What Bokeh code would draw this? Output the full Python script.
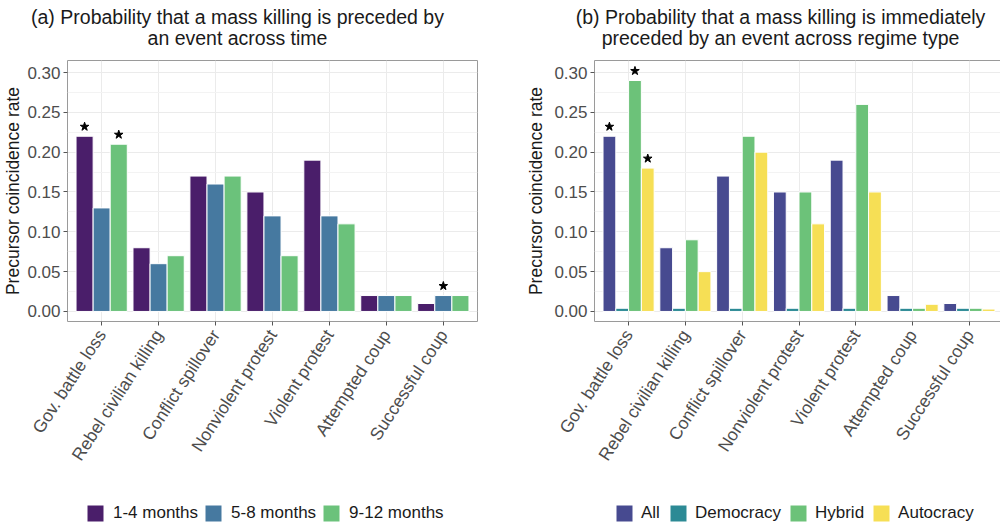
import numpy as np
from bokeh.plotting import figure
from bokeh.models import (ColumnDataSource, FixedTicker, Label, Legend, LegendItem,
                          Range1d, NumeralTickFormatter)
from bokeh.layouts import row, column
from bokeh.embed import file_html
from bokeh.resources import INLINE

# ---------------- data ----------------
categories = ["Gov. battle loss", "Rebel civilian killing", "Conflict spillover",
              "Nonviolent protest", "Violent protest", "Attempted coup", "Successful coup"]

time_labels = ["1-4 months", "5-8 months", "9-12 months"]
time_1_4 = [0.22, 0.08, 0.17, 0.15, 0.19, 0.02, 0.01]
time_5_8 = [0.13, 0.06, 0.16, 0.12, 0.12, 0.02, 0.02]
time_9_12 = [0.21, 0.07, 0.17, 0.07, 0.11, 0.02, 0.02]
time_star_1_4 = [1, 0, 0, 0, 0, 0, 0]
time_star_5_8 = [0, 0, 0, 0, 0, 0, 1]
time_star_9_12 = [1, 0, 0, 0, 0, 0, 0]

regime_labels = ["All", "Democracy", "Hybrid", "Autocracy"]
regime_all = [0.22, 0.08, 0.17, 0.15, 0.19, 0.02, 0.01]
regime_democracy = [0.004, 0.004, 0.004, 0.004, 0.004, 0.004, 0.004]
regime_hybrid = [0.29, 0.09, 0.22, 0.15, 0.26, 0.004, 0.004]
regime_autocracy = [0.18, 0.05, 0.20, 0.11, 0.15, 0.009, 0.003]
regime_star_all = [1, 0, 0, 0, 0, 0, 0]
regime_star_democracy = [0, 0, 0, 0, 0, 0, 0]
regime_star_hybrid = [1, 0, 0, 0, 0, 0, 0]
regime_star_autocracy = [1, 0, 0, 0, 0, 0, 0]

y_ticks = [0.00, 0.05, 0.10, 0.15, 0.20, 0.25, 0.30]
y_minor = [0.025, 0.075, 0.125, 0.175, 0.225, 0.275]

title_a = ["(a) Probability that a mass killing is preceded by", "an event across time"]
title_b = ["(b) Probability that a mass killing is immediately",
           "preceded by an event across regime type"]
y_title = "Precursor coincidence rate"

time_colors = ["#4A1E6A", "#4679A0", "#6BC27B"]
regime_colors = ["#474A90", "#2C8A95", "#6CC279", "#F6DF55"]

FONT = "Liberation Sans"
W_TOTAL = 1000
HEAD_H = 52
MID_H = 443
FOOT_H = 29
FRAME_H = 261
TOP = 8


def blank(width, height):
    f = figure(width=width, height=height, min_border=0,
               x_range=Range1d(0, width), y_range=Range1d(height, 0),
               x_axis_type=None, y_axis_type=None,
               output_backend="svg", toolbar_location=None, tools="")
    f.outline_line_color = None
    f.xgrid.visible = False
    f.ygrid.visible = False
    f.background_fill_color = "white"
    f.border_fill_color = "white"
    return f


def make_panel(series, stars, colors, left, frame_w, right, ytitle_standoff):
    p = figure(width=left + frame_w + right, height=MID_H,
               frame_width=frame_w, frame_height=FRAME_H,
               min_border_left=left, min_border_right=right,
               min_border_top=TOP, min_border_bottom=MID_H - TOP - FRAME_H,
               x_range=Range1d(0.4, 7.6), y_range=Range1d(-0.0126, 0.3151),
               output_backend="svg", toolbar_location=None, tools="")
    p.background_fill_color = "white"
    p.border_fill_color = "white"
    p.outline_line_color = "#9A9A9A"
    p.outline_line_width = 1

    n = len(series)
    w = 0.9 / n
    xs0 = np.arange(1, len(categories) + 1)
    for j, (vals, st, col) in enumerate(zip(series, stars, colors)):
        xs = xs0 + (j - (n - 1) / 2) * w
        src = ColumnDataSource(dict(x=xs, top=vals))
        p.vbar(x="x", top="top", width=w, bottom=0, source=src,
               fill_color=col, line_color="white", line_width=1)
        sx = [x for x, s in zip(xs, st) if s]
        sy = [v + 0.012 for v, s in zip(vals, st) if s]
        if sx:
            p.scatter(sx, sy, marker="star", size=9, fill_color="black", line_color="black")

    p.xaxis.ticker = FixedTicker(ticks=list(range(1, len(categories) + 1)))
    p.xaxis.major_label_overrides = {i + 1: c for i, c in enumerate(categories)}
    p.xaxis.major_label_orientation = np.deg2rad(57)
    p.yaxis.ticker = FixedTicker(ticks=y_ticks, minor_ticks=y_minor)
    p.yaxis.formatter = NumeralTickFormatter(format="0.00")
    for ax in (p.xaxis[0], p.yaxis[0]):
        ax.axis_line_color = None
        ax.major_tick_in = 0
        ax.major_tick_out = 4
        ax.major_tick_line_color = "#555555"
        ax.minor_tick_line_color = None
        ax.major_label_text_font = FONT
        ax.major_label_text_color = "#4D4D4D"
    p.yaxis.major_label_text_font_size = "17px"
    p.yaxis.major_label_standoff = 3
    p.xaxis.major_label_text_font_size = "17.5px"
    p.xaxis.major_label_standoff = 6

    p.yaxis.axis_label = y_title
    p.yaxis.axis_label_text_font = FONT
    p.yaxis.axis_label_text_font_size = "17.5px"
    p.yaxis.axis_label_text_font_style = "normal"
    p.yaxis.axis_label_text_color = "#1A1A1A"
    p.yaxis.axis_label_standoff = ytitle_standoff

    p.xgrid.grid_line_color = "#EBEBEB"
    p.ygrid.grid_line_color = "#EBEBEB"
    p.ygrid.minor_grid_line_color = "#F3F3F3"
    return p


pa = make_panel([time_1_4, time_5_8, time_9_12],
                [time_star_1_4, time_star_5_8, time_star_9_12], time_colors,
                left=61, frame_w=410, right=29, ytitle_standoff=1)
pb = make_panel([regime_all, regime_democracy, regime_hybrid, regime_autocracy],
                [regime_star_all, regime_star_democracy, regime_star_hybrid, regime_star_autocracy],
                regime_colors, left=88, frame_w=409, right=3, ytitle_standoff=5)

# header with the two panel titles
head = blank(W_TOTAL, HEAD_H)
for lines, cx in ((title_a, 237), (title_b, 780)):
    for k, line in enumerate(lines):
        head.add_layout(Label(x=cx, y=16 + 21 * k, text=line, text_align="center",
                              text_baseline="alphabetic", text_font=FONT,
                              text_font_size="19.5px", text_color="#1A1A1A"))

# footer with the legends (legend proxies sit outside the visible range)
foot = blank(W_TOTAL, FOOT_H)


def add_legend(fig, labels, colors, x0, standoff, spacing):
    items = []
    for lab, col in zip(labels, colors):
        proxy = ColumnDataSource(dict(x=[-100.0], top=[0.0]))
        r = fig.vbar(x="x", top="top", bottom=0, width=1, source=proxy,
                     fill_color=col, line_color=None)
        items.append(LegendItem(label=lab, renderers=[r]))
    lg = Legend(items=items, orientation="horizontal", location=(x0, 1),
                glyph_width=20, glyph_height=20, label_height=20,
                label_standoff=standoff, spacing=spacing, padding=0, margin=0,
                label_text_font=FONT, label_text_font_size="17px",
                label_text_color="#1A1A1A", background_fill_alpha=0,
                border_line_color=None)
    fig.add_layout(lg)


add_legend(foot, time_labels, time_colors, 85, 8, 5)
add_legend(foot, regime_labels, regime_colors, 614, 7, 7)

layout = column(head, row(pa, pb, spacing=0), foot, spacing=0)
open("out.html", "w").write(file_html(layout, INLINE))
